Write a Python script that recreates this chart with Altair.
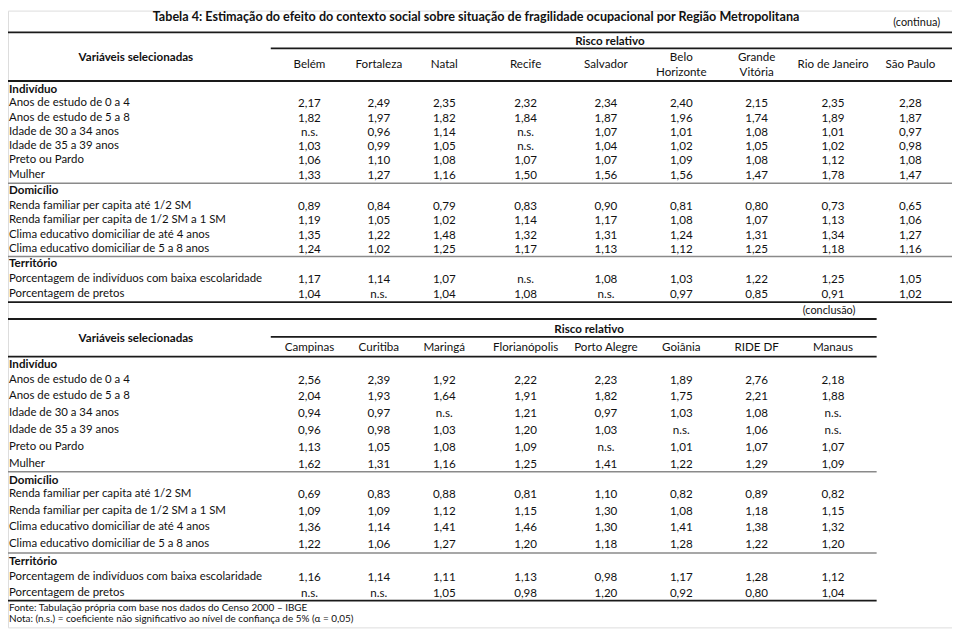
import altair as alt
import pandas as pd

# ---------------- data ----------------
title = "Tabela 4: Estimação do efeito do contexto social sobre situação de fragilidade ocupacional por Região Metropolitana"
var_header = "Variáveis selecionadas"
risk_header = "Risco relativo"
sections = ["Indivíduo", "Domicílio", "Território"]
rows_ind = ["Anos de estudo de 0 a 4", "Anos de estudo de 5 a 8", "Idade de 30 a 34 anos",
            "Idade de 35 a 39 anos", "Preto ou Pardo", "Mulher"]
rows_dom = ["Renda familiar per capita até 1/2 SM", "Renda familiar per capita de 1/2 SM a 1 SM",
            "Clima educativo domiciliar de até 4 anos", "Clima educativo domiciliar de 5 a 8 anos"]
rows_ter = ["Porcentagem de indivíduos com baixa escolaridade", "Porcentagem de pretos"]

cities1 = ["Belém", "Fortaleza", "Natal", "Recife", "Salvador", "Belo\nHorizonte",
           "Grande\nVitória", "Rio de Janeiro", "São Paulo"]
belem = ["2,17", "1,82", "n.s.", "1,03", "1,06", "1,33", "0,89", "1,19", "1,35", "1,24", "1,17", "1,04"]
fortaleza = ["2,49", "1,97", "0,96", "0,99", "1,10", "1,27", "0,84", "1,05", "1,22", "1,02", "1,14", "n.s."]
natal = ["2,35", "1,82", "1,14", "1,05", "1,08", "1,16", "0,79", "1,02", "1,48", "1,25", "1,07", "1,04"]
recife = ["2,32", "1,84", "n.s.", "n.s.", "1,07", "1,50", "0,83", "1,14", "1,32", "1,17", "n.s.", "1,08"]
salvador = ["2,34", "1,87", "1,07", "1,04", "1,07", "1,56", "0,90", "1,17", "1,31", "1,13", "1,08", "n.s."]
belo_horizonte = ["2,40", "1,96", "1,01", "1,02", "1,09", "1,56", "0,81", "1,08", "1,24", "1,12", "1,03", "0,97"]
grande_vitoria = ["2,15", "1,74", "1,08", "1,05", "1,08", "1,47", "0,80", "1,07", "1,31", "1,25", "1,22", "0,85"]
rio = ["2,35", "1,89", "1,01", "1,02", "1,12", "1,78", "0,73", "1,13", "1,34", "1,18", "1,25", "0,91"]
sao_paulo = ["2,28", "1,87", "0,97", "0,98", "1,08", "1,47", "0,65", "1,06", "1,27", "1,16", "1,05", "1,02"]
values1 = [belem, fortaleza, natal, recife, salvador, belo_horizonte, grande_vitoria, rio, sao_paulo]

cities2 = ["Campinas", "Curitiba", "Maringá", "Florianópolis", "Porto Alegre", "Goiânia", "RIDE DF", "Manaus"]
campinas = ["2,56", "2,04", "0,94", "0,96", "1,13", "1,62", "0,69", "1,09", "1,36", "1,22", "1,16", "n.s."]
curitiba = ["2,39", "1,93", "0,97", "0,98", "1,05", "1,31", "0,83", "1,09", "1,14", "1,06", "1,14", "n.s."]
maringa = ["1,92", "1,64", "n.s.", "1,03", "1,08", "1,16", "0,88", "1,12", "1,41", "1,27", "1,11", "1,05"]
florianopolis = ["2,22", "1,91", "1,21", "1,20", "1,09", "1,25", "0,81", "1,15", "1,46", "1,20", "1,13", "0,98"]
porto_alegre = ["2,23", "1,82", "0,97", "1,03", "n.s.", "1,41", "1,10", "1,30", "1,30", "1,18", "0,98", "1,20"]
goiania = ["1,89", "1,75", "1,03", "n.s.", "1,01", "1,22", "0,82", "1,08", "1,41", "1,28", "1,17", "0,92"]
ride_df = ["2,76", "2,21", "1,08", "1,06", "1,07", "1,29", "0,89", "1,18", "1,38", "1,22", "1,28", "0,80"]
manaus = ["2,18", "1,88", "n.s.", "n.s.", "1,07", "1,09", "0,82", "1,15", "1,32", "1,20", "1,12", "1,04"]
values2 = [campinas, curitiba, maringa, florianopolis, porto_alegre, goiania, ride_df, manaus]

note_cont = "(continua)"
note_conc = "(conclusão)"
fonte = "Fonte: Tabulação própria com base nos dados do Censo 2000 – IBGE"
nota = "Nota: (n.s.) = coeficiente não significativo ao nível de confiança de 5% (α = 0,05)"

# ---------------- layout (pixel positions) ----------------
col_x = [312, 382, 448, 530, 611, 687, 763, 840, 918]
label_x = 9
t1 = dict(sec_y=[87, 189, 263],
          row_y=[[101, 116, 130, 145, 159, 174], [205, 219, 234, 248], [279, 294]],
          var_y=55, risk_y=39, risk_x=615, hdr_y=62, right=960,
          lines=[30, 46, 79, 182, 256, 302], gray=[182, 256])
t2 = dict(sec_y=[364, 481, 563],
          row_y=[[381, 397, 414, 431, 448, 465], [496, 513, 529, 546], [579, 595]],
          var_y=338, risk_y=329, risk_x=594, hdr_y=347, right=884,
          lines=[319, 337, 357, 473, 555, 603], gray=[473, 555])

texts = []
rules = []


def add(kind, x, y, t):
    texts.append(dict(kind=kind, x=x, y=y, text=t))


add("title", 480, 14, title)
add("small_r", 948, 21, note_cont)
add("small_c", 836, 311, note_conc)
add("foot", label_x, 610, fonte)
add("foot", label_x, 622, nota)

row_groups = [rows_ind, rows_dom, rows_ter]
for tb, cities, values in [(t1, cities1, values1), (t2, cities2, values2)]:
    add("bold_c", 137, tb["var_y"], var_header)
    add("bold_c", tb["risk_x"], tb["risk_y"], risk_header)
    for ci, c in enumerate(cities):
        parts = c.split("\n")
        if len(parts) == 1:
            add("hdr", col_x[ci], tb["hdr_y"], c)
        else:
            add("hdr", col_x[ci], tb["hdr_y"] - 7.5, parts[0])
            add("hdr", col_x[ci], tb["hdr_y"] + 7.5, parts[1])
    k = 0
    for gi, grp in enumerate(row_groups):
        add("bold_l", label_x, tb["sec_y"][gi], sections[gi])
        for ri, lab in enumerate(grp):
            y = tb["row_y"][gi][ri]
            add("lab", label_x, y, lab)
            for ci in range(len(cities)):
                add("val", col_x[ci], y, values[ci][k])
            k += 1
    for i, ly in enumerate(tb["lines"]):
        x0 = 273 if i == 1 else 0
        gray = ly in tb["gray"]
        rules.append(dict(x=x0, x2=tb["right"], y=ly,
                          w=1.5 if gray else 1.8,
                          c="#8a8a8a" if gray else "#1a1a1a"))

tdf = pd.DataFrame(texts)
rdf = pd.DataFrame(rules)

W, H = 952, 622
xs = alt.Scale(domain=[8, 8 + W])
ys = alt.Scale(domain=[8, 8 + H], reverse=True)
X = alt.X("x:Q", scale=xs, axis=None)
Y = alt.Y("y:Q", scale=ys, axis=None)
FONT = "Lato"

rule_layer = alt.Chart(rdf).mark_rule().encode(
    x=X, x2="x2:Q", y=Y,
    strokeWidth=alt.StrokeWidth("w:Q", scale=None),
    color=alt.Color("c:N", scale=None),
)


def tl(kind, **kw):
    base = dict(font=FONT, color="#111111", baseline="middle")
    base.update(kw)
    return alt.Chart(tdf).transform_filter(alt.datum.kind == kind).mark_text(**base).encode(
        x=X, y=Y, text="text:N")


layers = [
    rule_layer,
    tl("title", fontSize=12.7, fontWeight="bold", align="center"),
    tl("small_r", fontSize=11, align="right"),
    tl("small_c", fontSize=11, align="center"),
    tl("foot", fontSize=10, align="left"),
    tl("bold_c", fontSize=11.7, fontWeight="bold", align="center"),
    tl("bold_l", fontSize=11.7, fontWeight="bold", align="left"),
    tl("hdr", fontSize=11.7, align="center"),
    tl("lab", fontSize=11.5, align="left"),
    tl("val", fontSize=11.7, align="center"),
]

chart = alt.layer(*layers).properties(
    width=W, height=H, padding=0,
    autosize=alt.AutoSizeParams(type="none"),
).configure_view(stroke=None).configure(background="white")

chart.save("out.html", embed_options={"renderer": "svg", "actions": False})
